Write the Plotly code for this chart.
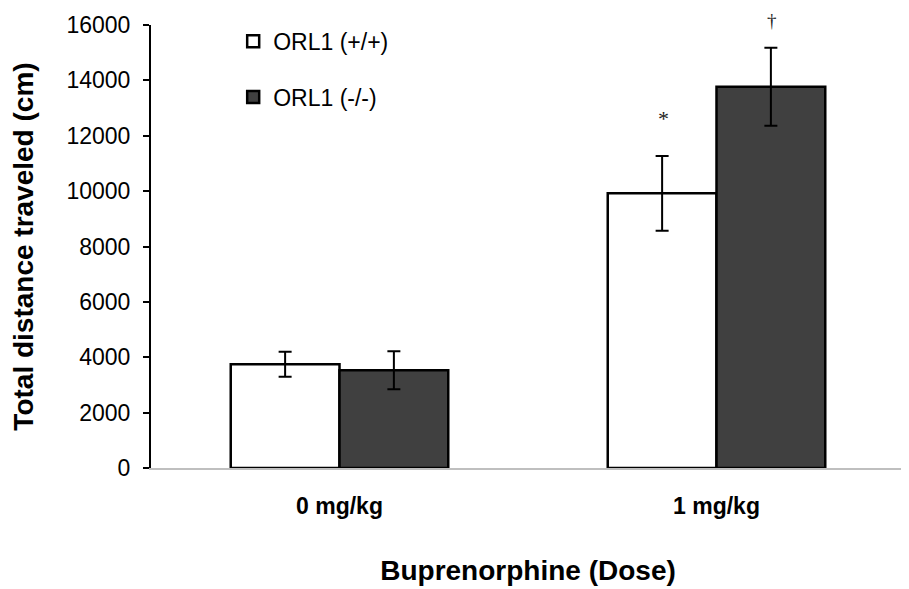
import plotly.graph_objects as go

categories = ["0 mg/kg", "1 mg/kg"]
wt_values = [3750, 9920]
wt_errors = [450, 1350]
ko_values = [3530, 13770]
ko_errors = [690, 1410]
series_names = ["ORL1 (+/+)", "ORL1 (-/-)"]
y_ticks = [0, 2000, 4000, 6000, 8000, 10000, 12000, 14000, 16000]
marks = ["*", "†"]
mark_values = [12640, 16540]
y_max = 16000

fig = go.Figure()
fig.add_trace(go.Bar(
    x=categories, y=wt_values, name=series_names[0], legendgroup="a",
    marker=dict(color="white", line=dict(color="black", width=2.5)),
    error_y=dict(type="data", array=wt_errors, color="black", thickness=2, width=6.5),
))
fig.add_trace(go.Bar(
    x=categories, y=ko_values, name=series_names[1], legendgroup="b",
    marker=dict(color="#404040", line=dict(color="black", width=2.5)),
    error_y=dict(type="data", array=ko_errors, color="black", thickness=2, width=6.5),
))

fig.add_annotation(x=categories[1], y=mark_values[0], text=marks[0], showarrow=False,
                   xshift=-53, font=dict(family="Liberation Serif", size=22, color="#222"))
fig.add_annotation(x=categories[1], yref="paper", y=1, yanchor="top",
                   text=marks[1], showarrow=False, xshift=55, yshift=17,
                   font=dict(family="Liberation Serif", size=19, color="#222"))

fig.update_layout(
    width=901, height=581,
    margin=dict(l=143, r=4, t=17, b=121, autoexpand=False),
    paper_bgcolor="white", plot_bgcolor="white",
    barmode="group", bargap=0.423, bargroupgap=0,
    font=dict(family="Liberation Sans, Arial, sans-serif", color="black"),
    showlegend=True,
    legend=dict(x=0.109, y=1.012, xanchor="left", yanchor="top",
                font=dict(size=23), tracegroupgap=23, bgcolor="rgba(0,0,0,0)"),
)
fig.update_xaxes(
    showline=True, linecolor="#bfbfbf", linewidth=2, showgrid=False,
    ticks="", ticklabelstandoff=16, range=[-0.5, 1.5], automargin=False,
    tickfont=dict(size=23, family="Liberation Sans, Arial, sans-serif", weight="bold"),
    title=dict(text="<b>Buprenorphine (Dose)</b>", font=dict(size=28), standoff=43),
)
fig.update_yaxes(
    range=[0, y_max], tickvals=y_ticks, tickformat="d", showgrid=False, zeroline=False,
    showline=True, linecolor="black", linewidth=2, automargin=False,
    ticks="outside", ticklen=6, tickwidth=2, tickcolor="black",
    ticklabelstandoff=8, tickfont=dict(size=23),
    title=dict(text="<b>Total distance traveled (cm)</b>", font=dict(size=28), standoff=33),
)

fig.write_html("out.html")
